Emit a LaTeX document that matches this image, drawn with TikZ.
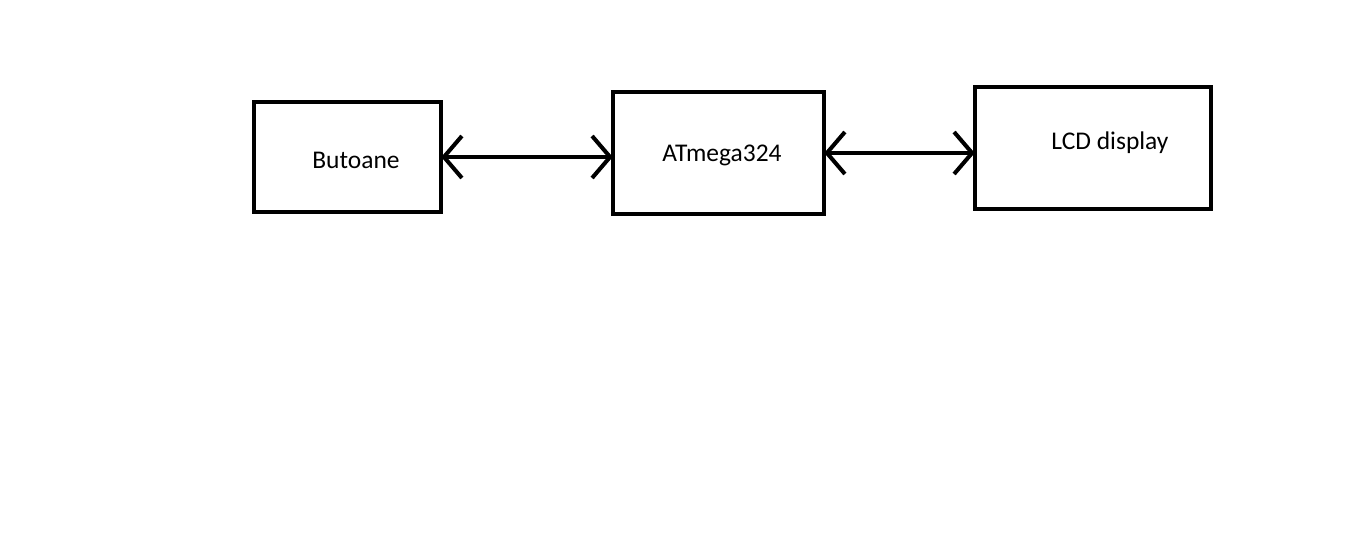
\documentclass[tikz,border=0pt]{standalone}
\usepackage{fontspec}
\setmainfont{Carlito}
\usetikzlibrary{arrows.meta}
\begin{document}
\begin{tikzpicture}[x=0.02cm,y=0.02cm]
\tikzset{box/.style={draw=black,line width=2.3pt,inner sep=0pt},
  link/.style={line width=2.3pt,shorten <=-1pt,shorten >=-1pt,{Straight Barb[length=0.36cm,width=0.84cm,line width=2.3pt]}-{Straight Barb[length=0.36cm,width=0.84cm,line width=2.3pt]}},
  lbl/.style={font=\fontsize{14.5}{17}\selectfont}}
\useasboundingbox (0,0) rectangle (1360,-557);
\node [box,minimum width=3.74cm,minimum height=2.2cm] (but) at (347.5,-157) {};
\node [box,minimum width=4.22cm,minimum height=2.44cm] (atm) at (718.5,-153) {};
\node [box,minimum width=4.72cm,minimum height=2.44cm] (lcd) at (1093,-148) {};
\node [lbl] (butl) at (356,-160) {Butoane};
\node [lbl] (atml) at (722,-155) {ATmega324};
\node [lbl] (lcdl) at (1110,-143) {LCD display};
\draw [link] (but.east) -- (atm.west |- but.east);
\draw [link] (atm.east) -- (lcd.west |- atm.east);
\end{tikzpicture}
\end{document}
